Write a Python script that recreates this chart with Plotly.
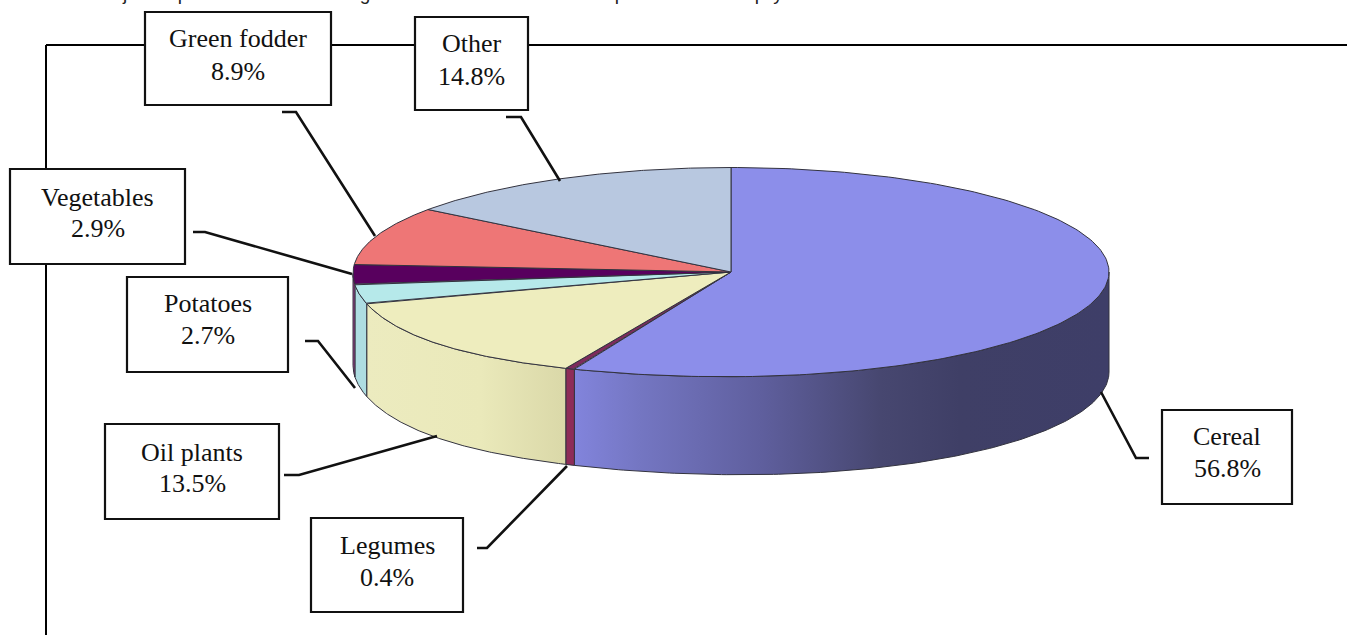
import numpy as np
import plotly.graph_objects as go

# Crop shares in percent, listed clockwise from twelve o'clock
crops = ["Cereal", "Legumes", "Oil plants", "Potatoes", "Vegetables", "Green fodder", "Other"]
shares = [56.8, 0.4, 13.5, 2.7, 2.9, 8.9, 14.8]

top_colors = ["#8C8EEA", "#7E2A5C", "#EEEDBE", "#B6E9EA", "#58005E", "#EE7676", "#B8C8E0"]
side_colors = ["#8587DF", "#8E2C58", "#EAE9BA", "#AEDDE2", "#A03C8C", "#C86060", "#98A8C0"]
edge_color = "#33333F"

# Horizontal shading of the rim walls, as (position along x, colour)
cereal_shade = [(574, "#8284DC"), (640, "#7476C2"), (760, "#5F5F9E"), (880, "#474770"),
                (960, "#3F3F66"), (1108, "#3E3E68")]
oil_shade = [(365, "#ECEBBF"), (480, "#EAE9BA"), (566, "#DAD8A8")]

# Pie projection on the page, in pixels
CX, CY, RX, RY = 731, 272, 378, 104.5

# Callout boxes: left, right, top, bottom, first text line y, second text line y
boxes = {
    "Green fodder": (145, 331, 12, 105, 38, 71),
    "Other": (415, 528, 17, 110, 43, 76),
    "Vegetables": (10, 185, 169, 264, 197, 228),
    "Potatoes": (127, 288, 277, 372, 303, 335),
    "Oil plants": (105, 279, 424, 519, 452, 483),
    "Legumes": (311, 463, 518, 612, 545, 577),
    "Cereal": (1162, 1292, 410, 504, 436, 468),
}

# Elbow leaders running from each callout to its slice
leaders = {
    "Green fodder": [(282, 112), (296, 112), (375, 236)],
    "Other": [(506, 117), (521, 117), (560, 181)],
    "Vegetables": [(193, 232), (205, 232), (352, 274)],
    "Potatoes": [(305, 341), (318, 341), (355, 388)],
    "Oil plants": [(284, 475), (299, 475), (437, 436)],
    "Legumes": [(477, 548), (487, 548), (567, 466)],
    "Cereal": [(1149, 458), (1136, 458), (1101, 392)],
}

# Descenders of the running text line cut off by the page top
cut_line_chars = [("j", 125), ("p", 183), ("g", 365), ("p", 620), ("p", 760), ("y", 778)]


def depth(theta):
    # The rim is taller on the right and toward the front
    return 96 + 4 * np.sin(theta) - 2 * np.cos(theta)


def rim(theta):
    # The front-left of the disc sags a little below a true ellipse
    sag = 6 * np.exp(-((theta - np.radians(235)) / np.radians(30)) ** 2)
    return CX + RX * np.sin(theta), CY - RY * np.cos(theta) + sag


def scale(stops):
    lo, hi = stops[0][0], stops[-1][0]
    return [[(p - lo) / (hi - lo), c] for p, c in stops]


fig = go.Figure()
bounds = np.concatenate([[0], np.cumsum(shares)]) / sum(shares) * 2 * np.pi

# Front walls, only the part of each slice facing the viewer
for i, crop in enumerate(crops):
    a, b = max(bounds[i], np.pi / 2), min(bounds[i + 1], 3 * np.pi / 2)
    if b <= a:
        continue
    t = np.linspace(a, b, 160)
    x, y = rim(t)
    xs = np.concatenate([x, x[::-1], x[:1]])
    ys = np.concatenate([y, (y + depth(t))[::-1], y[:1]])
    wall = dict(x=xs, y=ys, mode="lines", fill="toself", hoverinfo="skip",
                line=dict(color=edge_color, width=1))
    if crop == "Cereal":
        wall["fillgradient"] = dict(type="horizontal", colorscale=scale(cereal_shade),
                                    start=cereal_shade[0][0], stop=cereal_shade[-1][0])
    elif crop == "Oil plants":
        wall["fillgradient"] = dict(type="horizontal", colorscale=scale(oil_shade),
                                    start=oil_shade[0][0], stop=oil_shade[-1][0])
    else:
        wall["fillcolor"] = side_colors[i]
    fig.add_trace(go.Scatter(**wall))

# Top faces
for i, crop in enumerate(crops):
    t = np.linspace(bounds[i], bounds[i + 1], 200)
    x, y = rim(t)
    fig.add_trace(go.Scatter(
        x=np.concatenate([[CX], x, [CX]]), y=np.concatenate([[CY], y, [CY]]),
        mode="lines", fill="toself", fillcolor=top_colors[i],
        line=dict(color=edge_color, width=1), name=crop, hoverinfo="name",
    ))

shapes = [
    dict(type="line", x0=46, x1=1347, y0=45, y1=45, line=dict(color="black", width=2)),
    dict(type="line", x0=46, x1=46, y0=45, y1=635, line=dict(color="black", width=2)),
]
for crop, pts in leaders.items():
    path = "M " + " L ".join(f"{px},{py}" for px, py in pts)
    shapes.append(dict(type="path", path=path, line=dict(color="#111111", width=2.6)))

annotations = []
for crop, share in zip(crops, shares):
    left, right, top, bottom, y1, y2 = boxes[crop]
    shapes.append(dict(type="rect", x0=left, x1=right, y0=top, y1=bottom,
                       fillcolor="white", line=dict(color="#111111", width=2.2)))
    for text, yy in ((crop, y1), (f"{share}%", y2)):
        annotations.append(dict(x=(left + right) / 2, y=yy, text=text, showarrow=False,
                                xanchor="center", yanchor="middle",
                                font=dict(family="Liberation Serif", size=26, color="#111111")))

# Clipped sans-serif descenders along the very top edge
fig.add_trace(go.Scatter(
    x=[c[1] for c in cut_line_chars], y=[-5] * len(cut_line_chars),
    text=[c[0] for c in cut_line_chars], mode="text", textposition="middle center",
    textfont=dict(family="Liberation Sans", size=19, color="#222222"),
    hoverinfo="skip", cliponaxis=True,
))

fig.update_layout(
    width=1347, height=640, margin=dict(l=0, r=0, t=0, b=0),
    paper_bgcolor="white", plot_bgcolor="white", showlegend=False,
    xaxis=dict(range=[0, 1347], visible=False, fixedrange=True),
    yaxis=dict(range=[640, 0], visible=False, fixedrange=True),
    shapes=shapes, annotations=annotations,
)

fig.write_html("out.html")
